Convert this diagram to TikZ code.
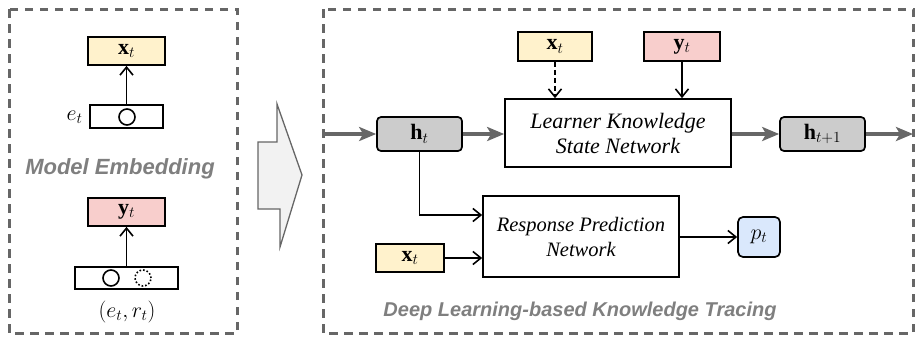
\RequirePackage{fix-cm}
\documentclass[tikz,border=0pt]{standalone}
\usepackage{fontspec}
\setmainfont{Liberation Serif}
\newfontfamily\capsans{Liberation Sans}
\usetikzlibrary{arrows.meta}

\definecolor{framegray}{HTML}{666666}
\definecolor{captiongray}{HTML}{7F7F7F}
\definecolor{flowgray}{HTML}{676767}
\definecolor{hfill}{HTML}{CCCCCC}
\definecolor{xfill}{HTML}{FFF2CC}
\definecolor{yfill}{HTML}{F8CECC}
\definecolor{pfill}{HTML}{DAE8FC}
\definecolor{bigarrowfill}{HTML}{F2F2F2}

\tikzset{
  panel/.style={draw=framegray, line width=3pt, dash pattern=on 8.5pt off 6.5pt},
  vecbox/.style={draw, line width=1.7pt, inner sep=0pt, font=\fontsize{22}{25}\selectfont},
  statebox/.style={vecbox, fill=hfill, rounded corners=4pt, minimum width=85pt, minimum height=34pt},
  netbox/.style={draw, line width=1.7pt, align=center, inner sep=0pt},
  slot/.style={draw, line width=1.6pt, circle, inner sep=0pt, minimum size=16pt},
  caption/.style={text=captiongray, font=\capsans\bfseries\itshape},
  mathlabel/.style={font=\fontsize{22}{25}\selectfont},
  link/.style={line width=1.6pt, -{Straight Barb[length=8pt, width=13pt, line width=1.6pt]}},
  flow/.style={draw=flowgray, line width=4pt, -{Stealth[length=17pt, width=14pt, inset=4pt]}, flowgray}
}

\begin{document}
\begin{tikzpicture}[x=1pt, y=-1pt]
\useasboundingbox (0,0) rectangle (917,338);

% ---------- left panel: embeddings ----------
\draw[panel] (9,9) rectangle (237,333);

\node[vecbox, fill=xfill, minimum width=77pt, minimum height=28pt] (xL) at (126.5,51) {$\mathbf{x}_t$};
\node[vecbox, minimum width=73pt, minimum height=23pt] (eBox) at (126.5,116.5) {};
\node[slot] (eSlot) at (127,117) {};
\node[mathlabel, anchor=east] (eLab) at (86,117) {$e_t$};
\draw[link] (eBox.north) -- (xL.south);

\node[caption, font=\capsans\fontsize{22}{26}\selectfont\bfseries\itshape] (embCap) at (120,169) {Model Embedding};

\node[vecbox, fill=yfill, minimum width=77pt, minimum height=28pt] (yL) at (126.5,212) {$\mathbf{y}_t$};
\node[vecbox, minimum width=103pt, minimum height=22pt] (erBox) at (126.5,278) {};
\node[slot] (eSlot2) at (111,278) {};
\node[slot, dotted] (rSlot) at (143,278) {};
\node[mathlabel] (erLab) at (127,312) {$(e_t, r_t)$};
\draw[link] (erBox.north) -- (yL.south);

% ---------- transition arrow ----------
\draw[draw=framegray, line width=1.3pt, fill=bigarrowfill, line join=miter]
  (258,142) -- (277,142) -- (277,104) -- (302,175) -- (280,247) -- (280,209) -- (258,209) -- cycle;

% ---------- right panel: knowledge tracing ----------
\draw[panel] (323,9) rectangle (913,333);

\node[statebox] (ht) at (419.5,134) {$\mathbf{h}_t$};
\node[netbox, minimum width=226pt, minimum height=68pt,
      font=\fontsize{22}{25}\selectfont\itshape] (lksn) at (618,133)
  {Learner Knowledge\\State Network};
\node[vecbox, fill=xfill, minimum width=74pt, minimum height=29pt] (xT) at (555,46.5) {$\mathbf{x}_t$};
\node[vecbox, fill=yfill, minimum width=76pt, minimum height=29pt] (yT) at (682,46.5) {$\mathbf{y}_t$};
\node[statebox] (ht1) at (822.5,134) {$\mathbf{h}_{t+1}$};

\node[netbox, minimum width=196pt, minimum height=81pt,
      font=\fontsize{20.5}{25}\selectfont\itshape] (rpn) at (581,236.5)
  {Response Prediction\\Network};
\node[vecbox, fill=xfill, minimum width=68pt, minimum height=28pt] (xB) at (410,258) {$\mathbf{x}_t$};
\node[vecbox, fill=pfill, rounded corners=5pt, minimum width=42pt, minimum height=40pt] (pt) at (759,237) {$p_t$};

\node[caption, font=\capsans\fontsize{20}{24}\selectfont\bfseries\itshape] (dlCap) at (580,311)
  {Deep Learning-based Knowledge Tracing};

\coordinate (inL) at (323,134);
\coordinate (outR) at (913,134);

\draw[flow] (inL) -- (ht);
\draw[flow] (ht) -- (ht -| lksn.west);
\draw[flow] (ht1 -| lksn.east) -- (ht1);
\draw[flow] (ht1) -- (outR);

\draw[link, dash pattern=on 5pt off 3pt] (xT) -- (xT |- lksn.north);
\draw[link] (yT) -- (yT |- lksn.north);

\draw[link] (ht.south) |- ([yshift=21.5pt]rpn.west);
\draw[link] (xB) -- (xB -| rpn.west);
\draw[link] (rpn.east |- pt) -- (pt);

\end{tikzpicture}
\end{document}
